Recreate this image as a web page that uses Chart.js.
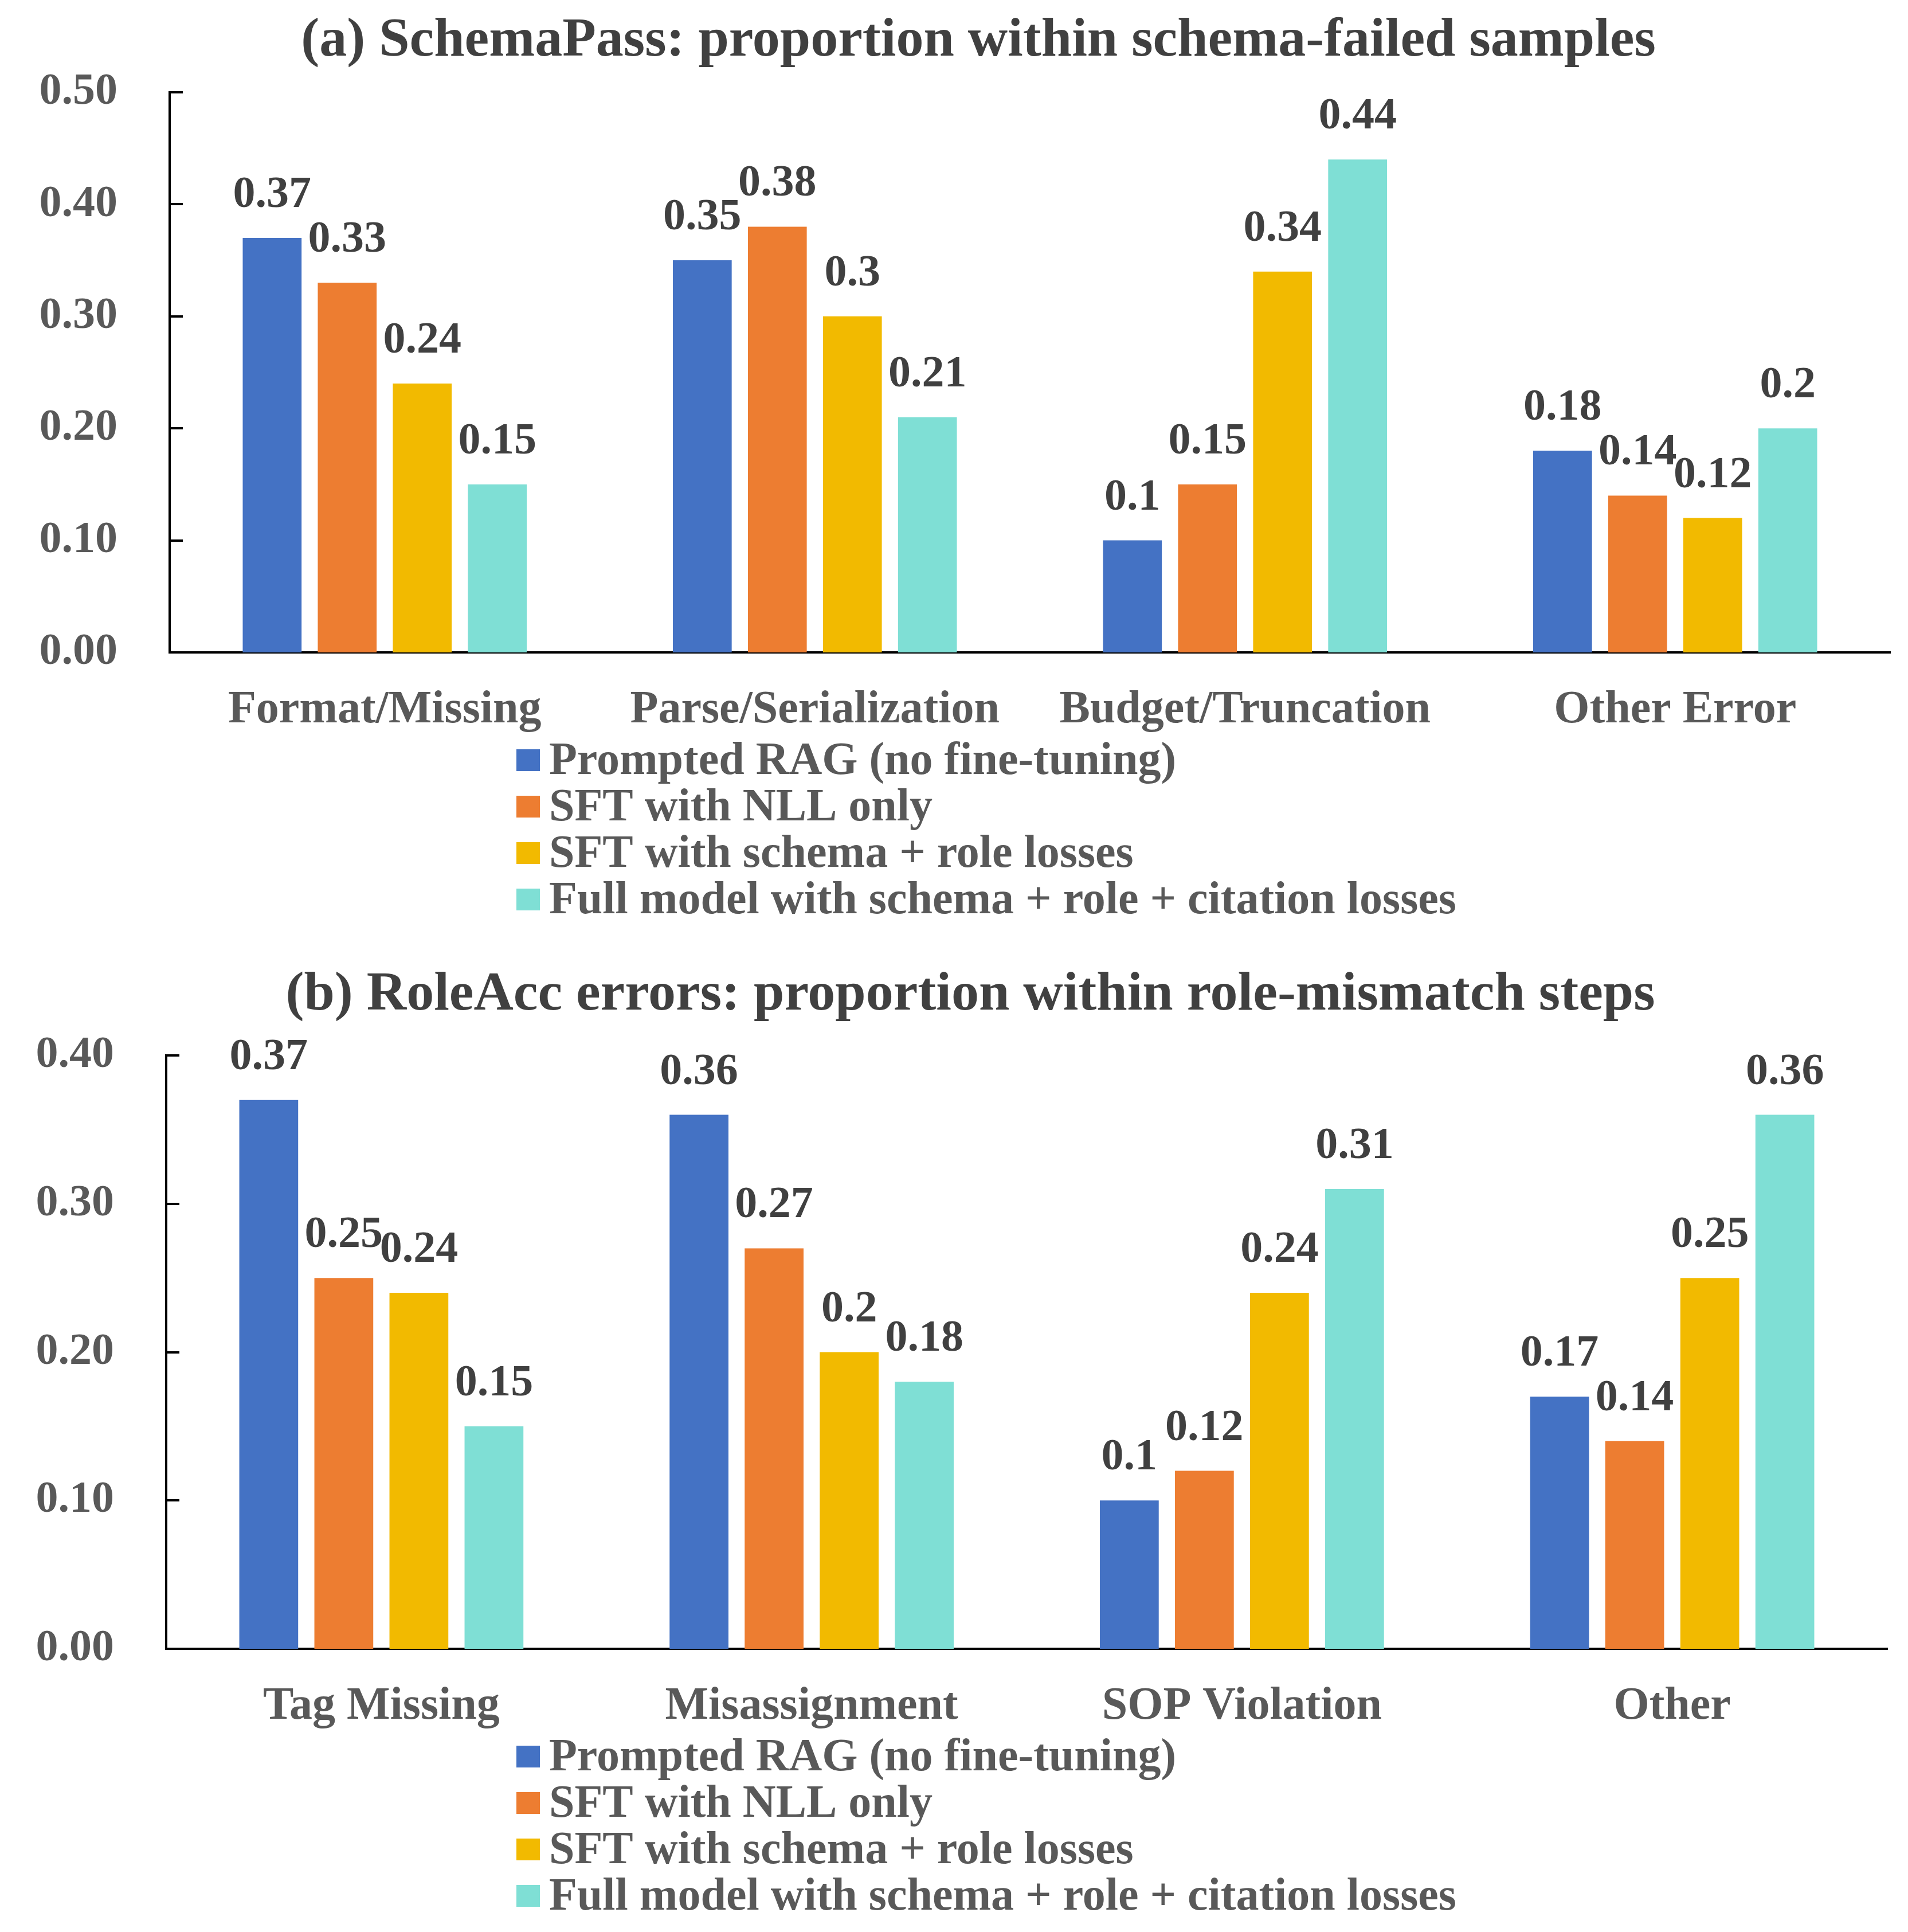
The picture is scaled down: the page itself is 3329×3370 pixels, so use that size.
<!DOCTYPE html>
<html>
<head>
<meta charset="utf-8">
<script src="https://cdn.jsdelivr.net/npm/chart.js@4.4.1/dist/chart.umd.min.js"></script>
<style>
  html, body { margin: 0; padding: 0; background: #ffffff; overflow: hidden; }
  canvas { display: block; }
</style>
</head>
<body>
<canvas id="schemaChart" width="3329" height="1660"></canvas>
<canvas id="roleChart" width="3329" height="1710"></canvas>
<script>
// series shared by both panels
var seriesNames = [
  'Prompted RAG (no fine-tuning)',
  'SFT with NLL only',
  'SFT with schema + role losses',
  'Full model with schema + role + citation losses'
];
var seriesColors = ['#4472C4', '#ED7D31', '#F2BA00', '#7FDFD5'];

// (a) SchemaPass
var schemaCategories = ['Format/Missing', 'Parse/Serialization', 'Budget/Truncation', 'Other Error'];
var schemaPrompted = [0.37, 0.35, 0.10, 0.18];
var schemaNll      = [0.33, 0.38, 0.15, 0.14];
var schemaRole     = [0.24, 0.30, 0.34, 0.12];
var schemaFull     = [0.15, 0.21, 0.44, 0.20];
var schemaTicks    = [0.00, 0.10, 0.20, 0.30, 0.40, 0.50];

// (b) RoleAcc
var roleCategories = ['Tag Missing', 'Misassignment', 'SOP Violation', 'Other'];
var rolePrompted = [0.37, 0.36, 0.10, 0.17];
var roleNll      = [0.25, 0.27, 0.12, 0.14];
var roleRole     = [0.24, 0.20, 0.24, 0.25];
var roleFull     = [0.15, 0.18, 0.31, 0.36];
var roleTicks    = [0.00, 0.10, 0.20, 0.30, 0.40];

var FONT = '"Liberation Serif", "Times New Roman", serif';

// title sits a little off the chart centre, so it is drawn here
var panelTitle = {
  id: 'panelTitle',
  afterDraw: function (chart, args, opts) {
    var ctx = chart.ctx;
    ctx.save();
    ctx.font = 'bold 96px ' + FONT;
    ctx.fillStyle = '#404040';
    ctx.textAlign = 'center';
    ctx.textBaseline = 'middle';
    ctx.fillText(opts.text, opts.x, opts.y);
    ctx.restore();
  }
};

var barLabels = {
  id: 'barLabels',
  afterDatasetsDraw: function (chart) {
    var ctx = chart.ctx;
    ctx.save();
    ctx.font = 'bold 78px ' + FONT;
    ctx.fillStyle = '#404040';
    ctx.textAlign = 'center';
    ctx.textBaseline = 'alphabetic';
    chart.data.datasets.forEach(function (ds, i) {
      chart.getDatasetMeta(i).data.forEach(function (bar, j) {
        ctx.fillText(String(ds.data[j]), bar.x, bar.y - 54);
      });
    });
    ctx.restore();
  }
};

var innerTicks = {
  id: 'innerTicks',
  afterDraw: function (chart) {
    var y = chart.scales.y, ctx = chart.ctx;
    ctx.save();
    ctx.strokeStyle = '#000000';
    ctx.lineWidth = 4;
    y.ticks.forEach(function (t) {
      var py = Math.round(y.getPixelForValue(t.value));
      ctx.beginPath();
      ctx.moveTo(chart.chartArea.left, py);
      ctx.lineTo(chart.chartArea.left + 23, py);
      ctx.stroke();
    });
    ctx.restore();
  }
};

var listLegend = {
  id: 'listLegend',
  afterDraw: function (chart) {
    var ctx = chart.ctx;
    var top = chart.chartArea.bottom + 188;
    ctx.save();
    ctx.font = 'bold 80px ' + FONT;
    ctx.textBaseline = 'middle';
    ctx.textAlign = 'left';
    chart.data.datasets.forEach(function (ds, i) {
      var cy = top + i * 81;
      ctx.fillStyle = ds.backgroundColor;
      ctx.fillRect(901, cy - 19, 41, 38);
      ctx.fillStyle = '#595959';
      ctx.fillText(ds.label, 958, cy + 3);
    });
    ctx.restore();
  }
};

function makeChart(id, title, categories, values, ticks, opts) {
  var datasets = values.map(function (vals, i) {
    return {
      label: seriesNames[i],
      data: vals,
      backgroundColor: seriesColors[i],
      borderWidth: 0,
      categoryPercentage: 0.698,
      barPercentage: 0.784
    };
  });

  return new Chart(document.getElementById(id), {
    type: 'bar',
    data: { labels: categories, datasets: datasets },
    plugins: [barLabels, innerTicks, listLegend, panelTitle],
    options: {
      responsive: false,
      animation: false,
      devicePixelRatio: 1,
      layout: { padding: { left: 0, right: opts.right, top: opts.top, bottom: opts.bottom } },
      plugins: {
        legend: { display: false },
        tooltip: { enabled: false },
        title: { display: false },
        panelTitle: { text: title, x: opts.titleX, y: opts.titleY }
      },
      scales: {
        x: {
          grid: { display: false, drawTicks: false },
          border: { display: true, color: '#000000', width: 4 },
          ticks: {
            color: '#595959',
            padding: 53,
            font: { family: FONT, size: 80, weight: 'bold', lineHeight: 1.2 }
          },
          afterFit: function (s) {
            s.height = 149;
            s.paddingLeft = 0;
            s.paddingRight = 0;
          }
        },
        y: {
          min: 0,
          max: ticks[ticks.length - 1],
          afterBuildTicks: function (s) {
            s.ticks = ticks.map(function (v) { return { value: v }; });
          },
          grid: { display: false, drawTicks: false },
          border: { display: true, color: '#000000', width: 4 },
          ticks: {
            color: '#595959',
            padding: 91,
            font: { family: FONT, size: 78, weight: 'bold' },
            callback: function (v) { return Number(v).toFixed(2); }
          },
          afterFit: function (s) { s.width = opts.axisLeft; }
        }
      }
    }
  });
}

makeChart('schemaChart',
  '(a) SchemaPass: proportion within schema-failed samples',
  schemaCategories,
  [schemaPrompted, schemaNll, schemaRole, schemaFull],
  schemaTicks,
  { right: 31, top: 161, bottom: 373, axisLeft: 296, titleX: 1707, titleY: 72 });

makeChart('roleChart',
  '(b) RoleAcc errors: proportion within role-mismatch steps',
  roleCategories,
  [rolePrompted, roleNll, roleRole, roleFull],
  roleTicks,
  { right: 36, top: 181, bottom: 345, axisLeft: 290, titleX: 1693, titleY: 76 });
</script>
</body>
</html>
